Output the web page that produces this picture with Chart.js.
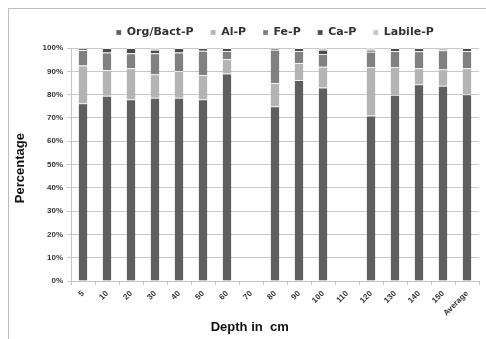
<!DOCTYPE html>
<html lang="en">
<head>
    <meta charset="UTF-8">
    <title>Phosphorus fractions by depth</title>
    <script src="https://cdn.jsdelivr.net/npm/chart.js"></script>
    <style>
        body { margin: 0; background: #fff; }
    </style>
</head>
<body>
    <canvas id="chartP" width="486" height="339"></canvas>

    <script>
        // Datos (% de cada fraccion)
        const depths = ['5', '10', '20', '30', '40', '50', '60', '70', '80', '90', '100', '110', '120', '130', '140', '150', 'Average'];
        const orgBact = [76.3, 79.5, 78.0, 78.7, 78.7, 78.0, 89.1, null, 75.0, 86.3, 83.0, null, 71.0, 79.9, 84.4, 83.8, 80.1];
        const alP     = [16.2, 11.1, 13.3, 10.0, 11.4, 10.4, 6.2, null, 10.0, 7.3, 9.0, null, 20.8, 11.9, 6.9, 7.1, 11.2];
        const feP     = [6.6, 7.5, 6.4, 9.0, 8.0, 10.4, 3.4, null, 14.3, 5.1, 5.4, null, 6.6, 6.9, 7.3, 8.1, 7.4];
        const caP     = [0.7, 1.9, 2.3, 1.6, 1.9, 1.2, 1.3, null, 0.5, 1.3, 1.9, null, 0.9, 1.3, 1.4, 0.6, 1.3];
        const labileP = [0.2, 0, 0, 0.7, 0, 0, 0, null, 0.2, 0, 0.7, null, 0.7, 0, 0, 0.4, 0];
        const yTicks = [0, 10, 20, 30, 40, 50, 60, 70, 80, 90, 100];

        const tickFont = { family: 'Liberation Sans', size: 8, weight: 'bold' };
        const titleFont = { family: 'Liberation Sans', size: 13, weight: 'bold' };

        // marco gris alrededor del grafico
        const frame = {
            id: 'frame',
            beforeDraw(chart) {
                const c = chart.ctx;
                c.save();
                c.strokeStyle = '#bdbdbd';
                c.lineWidth = 1;
                c.strokeRect(8.5, 8.5, 600, 600);
                c.restore();
            }
        };

        // sombra suave a los lados de las barras
        const halo = {
            id: 'halo',
            beforeDatasetsDraw(chart) {
                const c = chart.ctx;
                c.save();
                c.shadowColor = 'rgba(0,0,0,0.22)';
                c.shadowBlur = 3;
            },
            afterDatasetsDraw(chart) {
                chart.ctx.restore();
            }
        };

        const serie = (label, data, color) => ({
            label: label,
            data: data,
            backgroundColor: color,
            borderColor: '#ffffff',
            borderWidth: { top: 1, left: 0, right: 0, bottom: 0 },
            borderSkipped: false,
            barPercentage: 0.36,
            categoryPercentage: 1
        });

        new Chart(document.getElementById('chartP'), {
            type: 'bar',
            data: {
                labels: depths,
                datasets: [
                    serie('Org/Bact-P', orgBact, '#5f5f5f'),
                    serie('Al-P', alP, '#b4b4b4'),
                    serie('Fe-P', feP, '#808080'),
                    serie('Ca-P', caP, '#4c4c4c'),
                    serie('Labile-P', labileP, '#c6c6c6')
                ]
            },
            options: {
                responsive: false,
                animation: false,
                layout: { padding: { left: 8, right: 7, top: 10, bottom: 0 } },
                plugins: {
                    legend: {
                        position: 'top',
                        fullSize: false,
                        maxHeight: 38,
                        labels: {
                            boxWidth: 5,
                            boxHeight: 5,
                            padding: 17,
                            color: '#333',
                            font: { family: 'DejaVu Sans', size: 11, weight: 'bold' }
                        }
                    },
                    tooltip: { enabled: false }
                },
                scales: {
                    x: {
                        stacked: true,
                        afterFit(scale) { scale.height = 58; },
                        grid: { drawOnChartArea: false, drawTicks: true, tickLength: 4, color: '#c4c4c4', offset: true },
                        border: { color: '#c4c4c4' },
                        ticks: { minRotation: 45, maxRotation: 45, padding: 4, color: '#333', font: tickFont },
                        title: {
                            display: true,
                            text: 'Depth in  cm              ',
                            color: '#111',
                            font: titleFont,
                            padding: { top: 0, bottom: 4 }
                        }
                    },
                    y: {
                        stacked: true,
                        min: 0,
                        max: 100,
                        afterFit(scale) { scale.width = 63; },
                        afterBuildTicks(scale) { scale.ticks = yTicks.map(v => ({ value: v })); },
                        grid: { color: '#c8c8c8', tickLength: 4 },
                        border: { color: '#c4c4c4' },
                        ticks: { padding: 4, color: '#333', font: tickFont, callback: v => v + '%' },
                        title: {
                            display: true,
                            text: 'Percentage  ',
                            color: '#111',
                            font: titleFont,
                            padding: { top: 5, bottom: 0 }
                        }
                    }
                }
            },
            plugins: [frame, halo]
        });
    </script>
</body>
</html>
